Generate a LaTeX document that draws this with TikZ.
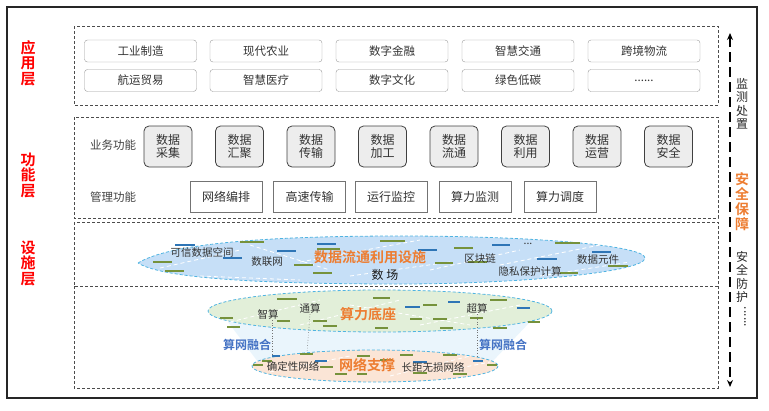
\documentclass[tikz,border=0pt]{standalone}
\usepackage{fontspec}
\setmainfont{Noto Sans CJK SC}[BoldFont={Noto Sans CJK SC Bold}]
\usetikzlibrary{arrows.meta}

\definecolor{layerred}{RGB}{255,0,0}
\definecolor{accorange}{RGB}{237,125,49}
\definecolor{fuseblue}{RGB}{68,114,196}
\definecolor{edgecyan}{RGB}{80,180,225}
\definecolor{barGreen}{RGB}{118,146,60}
\definecolor{barBlue}{RGB}{46,117,182}
\definecolor{cloudblue}{RGB}{198,223,247}
\definecolor{cloudgreen}{RGB}{226,239,217}
\definecolor{cloudpeach}{RGB}{251,229,214}
\definecolor{bridgeblue}{RGB}{234,245,252}

\tikzset{
  appbox/.style={draw=black!40, rounded corners=3pt, minimum width=112pt,
    minimum height=22pt, inner sep=0pt, text=black!80,
    font=\fontsize{11.5}{12}\selectfont},
  databox/.style={draw=black!75, fill=black!7, rounded corners=5pt,
    line width=0.8pt, minimum width=48pt, minimum height=41pt, inner sep=0pt,
    align=center, text=black!80, font=\fontsize{12}{13}\selectfont},
  mgmtbox/.style={draw=black!55, minimum width=72pt, minimum height=31pt,
    inner sep=0pt, text=black!80, font=\fontsize{12}{13}\selectfont},
  layerbox/.style={draw=black!70, dash pattern=on 3pt off 2pt, line width=0.7pt},
  layertitle/.style={text=layerred, align=center,
    font=\fontsize{15}{15.5}\selectfont\bfseries},
  sidetext/.style={align=center, text=black!85, font=\fontsize{12}{13.5}\selectfont},
  smalltag/.style={text=black!80, font=\fontsize{10.5}{11}\selectfont, inner sep=1pt},
  bigtag/.style={text=accorange, font=\fontsize{14}{15}\selectfont\bfseries, inner sep=1pt},
  fusetag/.style={text=fuseblue, font=\fontsize{12}{13}\selectfont\bfseries},
  cloudedge/.style={draw=edgecyan, dash pattern=on 3pt off 2pt, line width=0.8pt},
  gbar/.style={draw=barGreen, line width=2.3pt},
  bbar/.style={draw=barBlue, line width=2.3pt},
  wlink/.style={draw=white, dash pattern=on 4pt off 3pt, line width=0.8pt},
}

\begin{document}
\begin{tikzpicture}[x=1pt,y=-1pt]
  \useasboundingbox (0,0) rectangle (769,410);

  %–– Bordo esterno ––
  \draw[black!85, line width=1.3pt] (7,7) rectangle (757,398);

  %–– Riquadri tratteggiati ––
  \draw[layerbox] (74,26) rectangle (718,105);
  \draw[layerbox] (74,117) rectangle (718,218);
  \draw[layerbox] (74,222) rectangle (718,286);
  \draw[layerbox] (74,286) -- (74,388) -- (718,388) -- (718,286);

  %–– Titoli dei livelli ––
  \node[layertitle] (tapp) at (28,63) {应\\用\\层};
  \node[layertitle] (tfun) at (28,175) {功\\能\\层};
  \node[layertitle] (tinf) at (28,263) {设\\施\\层};

  %–– Livello applicativo ––
  \node[appbox] (a1) at (140.5,51) {工业制造};
  \node[appbox] (a2) at (266,51) {现代农业};
  \node[appbox] (a3) at (392,51) {数字金融};
  \node[appbox] (a4) at (518,51) {智慧交通};
  \node[appbox] (a5) at (644,51) {跨境物流};
  \node[appbox] (b1) at (140.5,80.5) {航运贸易};
  \node[appbox] (b2) at (266,80.5) {智慧医疗};
  \node[appbox] (b3) at (392,80.5) {数字文化};
  \node[appbox] (b4) at (518,80.5) {绿色低碳};
  \node[appbox] (b5) at (644,80.5) {......};

  %–– Livello funzionale ––
  \node[sidetext, text=black!75, font=\fontsize{11.5}{12}\selectfont] (fbiz) at (113,145) {业务功能};
  \node[sidetext, text=black!75, font=\fontsize{11.5}{12}\selectfont] (fmgt) at (113,197) {管理功能};

  \node[databox] (d1) at (168,146.5) {数据\\采集};
  \node[databox] (d2) at (239.5,146.5) {数据\\汇聚};
  \node[databox] (d3) at (311,146.5) {数据\\传输};
  \node[databox] (d4) at (382.5,146.5) {数据\\加工};
  \node[databox] (d5) at (454,146.5) {数据\\流通};
  \node[databox] (d6) at (525.5,146.5) {数据\\利用};
  \node[databox] (d7) at (597,146.5) {数据\\运营};
  \node[databox] (d8) at (668.5,146.5) {数据\\安全};

  \node[mgmtbox] (m1) at (226,196.5) {网络编排};
  \node[mgmtbox] (m2) at (309.5,196.5) {高速传输};
  \node[mgmtbox] (m3) at (391,196.5) {运行监控};
  \node[mgmtbox] (m4) at (475,196.5) {算力监测};
  \node[mgmtbox] (m5) at (560,196.5) {算力调度};

  %–– Regioni (nuvole) ––
  \fill[bridgeblue] (228,322) -- (530,322) -- (492,362) -- (258,362) -- cycle;
  \draw[cloudedge, fill=cloudblue]
    (138,263) .. controls (175,240) and (300,236) .. (400,236)
    .. controls (540,236) and (645,246) .. (645,258)
    .. controls (645,272) and (520,284) .. (400,284)
    .. controls (280,284) and (165,280) .. (138,263) -- cycle;
  \draw[cloudedge, fill=cloudgreen] (380,311) ellipse [x radius=172, y radius=21];
  \draw[cloudedge, fill=cloudpeach] (375,366) ellipse [x radius=123, y radius=16];

  % collegamenti bianchi
  \foreach \xa/\ya/\xb/\yb in {160/268/240/250, 250/245/330/270, 300/262/420/240,
      430/270/520/250, 500/265/600/245, 540/276/630/262, 200/276/300/280,
      350/276/450/262, 230/322/320/300, 300/325/400/300, 420/325/520/305,
      350/305/470/325, 270/372/350/356, 390/376/470/356, 440/372/490/362}
    \draw[wlink] (\xa,\ya) -- (\xb,\yb);

  % trattini verdi e blu
  \foreach \xa/\xb/\y in {240/264/242, 317/340/249, 380/405/241, 153/172/262,
      165/184/271, 294/313/265, 313/332/273, 454/473/248, 555/580/243,
      435/453/263, 468/487/262, 560/578/273, 608/628/266,
      277/297/299, 373/390/298, 490/507/300, 423/437/305, 220/233/318,
      227/240/327, 277/290/321, 313/327/321, 323/337/326, 375/388/328,
      410/422/319, 433/447/319, 440/453/328, 493/507/328, 470/483/318,
      528/540/322, 300/313/354, 262/272/361, 320/333/367, 335/347/374,
      357/370/356, 380/393/360, 400/413/355, 357/367/374, 443/457/355,
      487/497/365, 453/467/374, 413/427/373, 253/263/365}
    \draw[gbar] (\xa,\y) -- (\xb,\y);
  \foreach \xa/\xb/\y in {175/195/245, 277/296/251, 317/336/244, 418/437/250,
      223/242/258, 492/510/245, 592/611/252, 537/557/259,
      448/460/302, 405/420/307, 517/530/308,
      272/280/356, 315/327/361, 413/427/362, 473/483/361}
    \draw[bbar] (\xa,\y) -- (\xb,\y);

  %–– Etichette dei livelli infrastrutturali ––
  \node[smalltag] (trust) at (202,252) {可信数据空间};
  \node[smalltag] (dnet) at (267,262) {数联网};
  \node[bigtag] (flow) at (370,257) {数据流通利用设施};
  \node[smalltag, font=\fontsize{12}{13}\selectfont, text=black!90] (dfield) at (385,275) {数 场};
  \node[smalltag] (chain) at (480,259) {区块链};
  \node[smalltag] (priv) at (530,271) {隐私保护计算};
  \node[smalltag] (elem) at (598,260) {数据元件};
  \node[smalltag] (more) at (528,244) {...};

  \node[smalltag] (zs) at (268,314) {智算};
  \node[smalltag] (ts) at (310,308) {通算};
  \node[bigtag] (base) at (368,314) {算力底座};
  \node[smalltag] (cs) at (477,308) {超算};

  \node[fusetag] (fuseL) at (247,345) {算网融合};
  \node[fusetag] (fuseR) at (503,345) {算网融合};

  \node[smalltag] (det) at (293,366) {确定性网络};
  \node[bigtag] (netsup) at (367,365) {网络支撑};
  \node[smalltag] (lossless) at (433,367) {长距无损网络};

  % linee punteggiate
  \coordinate (zsend) at (272,356);
  \coordinate (tsend) at (307,353);
  \coordinate (csend) at (477,357);
  \draw[black!55, dotted, line width=0.6pt] (zs.south -| zsend) -- (zsend);
  \draw[black!55, dotted, line width=0.6pt] (ts.south) -- (tsend);
  \draw[black!55, dotted, line width=0.6pt] (cs.south) -- (csend);

  %–– Sicurezza (lato destro) ––
  \coordinate (arrtop) at (730,33);
  \coordinate (arrbot) at (730,387);
  \draw[black, line width=2.4pt, dash pattern=on 10pt off 5pt,
    {Stealth[length=7pt,width=6pt]}-{Stealth[length=7pt,width=6pt]}] (arrtop) -- (arrbot);

  \node[sidetext] (monitor) at (742,104) {监\\测\\处\\置};
  \node[sidetext, text=accorange, font=\fontsize{14}{15}\selectfont\bfseries] (secure) at (742,202) {安\\全\\保\\障};
  \node[sidetext] (protect) at (742,277) {安\\全\\防\\护};
  \node[sidetext, rotate=-90, font=\fontsize{12}{12}\selectfont] (etc) at (745,317) {......};
\end{tikzpicture}
\end{document}
